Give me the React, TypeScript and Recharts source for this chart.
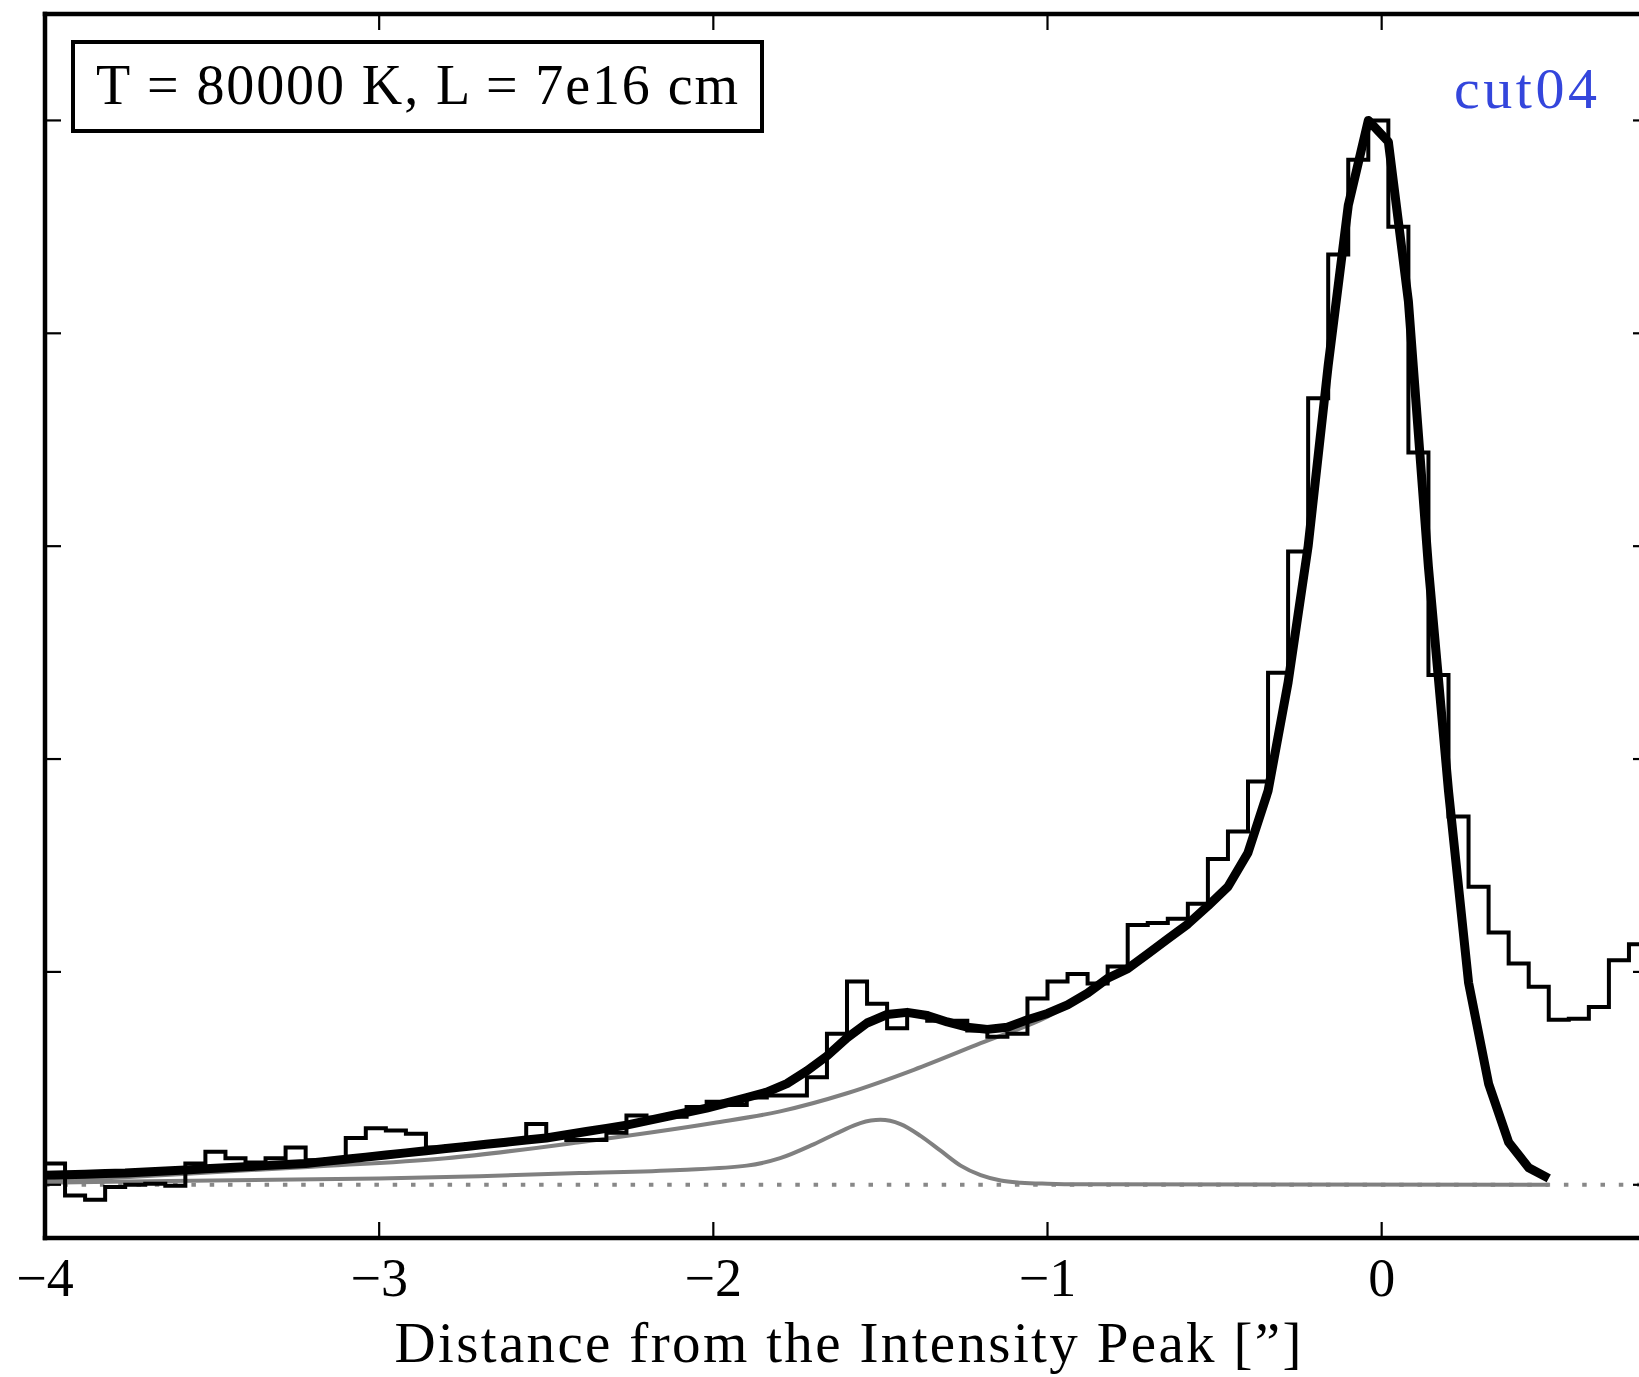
import { ComposedChart, Line, ReferenceLine, XAxis, YAxis } from 'recharts';

const X_TICKS = [-4, -3, -2, -1, 0];
const Y_TICKS = [0, 0.2, 0.4, 0.6, 0.8, 1.0];

// profile bins are 0.06" wide, first edge at -4"
const BIN_START = -4;
const BIN_WIDTH = 0.06;

// observed cut, one level per bin
const HIST_LEVELS = [
  0.02, -0.01, -0.014, -0.002, 0.0, 0.001, -0.001, 0.02, 0.031, 0.025,
  0.021, 0.025, 0.035, 0.023, 0.024, 0.044, 0.053, 0.051, 0.048, 0.035,
  0.036, 0.038, 0.04, 0.041, 0.057, 0.045, 0.042, 0.042, 0.049, 0.065,
  0.063, 0.064, 0.073, 0.078, 0.075, 0.082, 0.084, 0.084, 0.101, 0.142,
  0.191, 0.17, 0.147, 0.161, 0.154, 0.154, 0.145, 0.139, 0.142, 0.175,
  0.191, 0.198, 0.189, 0.205, 0.244, 0.246, 0.25, 0.264, 0.306, 0.332,
  0.379, 0.481, 0.595, 0.739, 0.874, 0.963, 1.0, 0.9, 0.688, 0.479,
  0.346, 0.28, 0.237, 0.208, 0.186, 0.155, 0.156, 0.167, 0.211, 0.226,
];

// total model, sampled at the bin edges from -4" to +0.5"
const FIT_Y = [
  0.009, 0.0095, 0.01, 0.0105, 0.011, 0.012, 0.013, 0.014, 0.015, 0.016,
  0.017, 0.018, 0.019, 0.02, 0.022, 0.024, 0.026, 0.028, 0.03, 0.032,
  0.034, 0.036, 0.038, 0.04, 0.042, 0.044, 0.047, 0.05, 0.053, 0.056,
  0.06, 0.064, 0.068, 0.072, 0.077, 0.082, 0.087, 0.095, 0.107, 0.121,
  0.138, 0.152, 0.16, 0.162, 0.159, 0.153, 0.148, 0.146, 0.148, 0.155,
  0.161, 0.169, 0.18, 0.194, 0.203, 0.217, 0.231, 0.245, 0.262, 0.28,
  0.312, 0.37, 0.472, 0.6, 0.77, 0.92, 1.0, 0.98, 0.83, 0.58,
  0.37, 0.19, 0.095, 0.04, 0.016, 0.006,
];

// extended component (grey, upper)
const EXT_X = [-4.0, -3.6, -3.2, -2.8, -2.4, -2.0, -1.8, -1.6, -1.4, -1.2, -1.0, -0.94];
const EXT_Y = [0.003, 0.01, 0.017, 0.025, 0.04, 0.058, 0.069, 0.086, 0.108, 0.133, 0.158, 0.168];

// knot component (grey, lower)
const KNOT_X = [
  -4.0, -3.5, -3.0, -2.7, -2.4, -2.1, -1.9, -1.8, -1.7, -1.62, -1.56, -1.5,
  -1.44, -1.38, -1.32, -1.26, -1.2, -1.14, -1.08, -1.0, -0.9, 0.5,
];
const KNOT_Y = [
  0.002, 0.004, 0.006, 0.008, 0.011, 0.014, 0.018, 0.025, 0.038, 0.05, 0.058, 0.061,
  0.057, 0.046, 0.032, 0.018, 0.009, 0.004, 0.002, 0.001, 0.0005, 0.0,
];

const edge = (i: number) => +(BIN_START + BIN_WIDTH * i).toFixed(3);

const histData = [
  ...HIST_LEVELS.map((y, i) => ({ x: edge(i), y })),
  { x: edge(HIST_LEVELS.length), y: HIST_LEVELS[HIST_LEVELS.length - 1] },
];
const fitData = FIT_Y.map((y, i) => ({ x: edge(i), y }));
const extData = EXT_X.map((x, i) => ({ x, y: EXT_Y[i] }));
const knotData = KNOT_X.map((x, i) => ({ x, y: KNOT_Y[i] }));

const FONT = '"Liberation Serif", "Times New Roman", serif';
const PLOT_BOTTOM = 1237;
const GREY = '#808080';

const axisLine = { stroke: '#000', strokeWidth: 4.5, strokeLinecap: 'square' as const };
const tickLine = { stroke: '#000', strokeWidth: 2.2 };

function XTick({ x, payload }: any) {
  const v = payload.value as number;
  const label = v < 0 ? `\u2212${Math.abs(v)}` : `${v}`;
  return (
    <text x={x} y={PLOT_BOTTOM + 59} textAnchor="middle" fontFamily={FONT} fontSize={54} fill="#000">
      {label}
    </text>
  );
}

// keeps the tick marks but draws no label
function NoLabel() {
  return <g />;
}

export default function App() {
  return (
    <div
      style={{
        position: 'fixed',
        left: 0,
        top: 0,
        width: 1639,
        height: 1377,
        overflow: 'hidden',
        background: '#fff',
      }}
    >
      <div style={{ position: 'absolute', left: 0, top: 0 }}>
        <ComposedChart width={1700} height={1377} margin={{ top: 14, right: 51, bottom: 139, left: 45 }}>
          <XAxis
            xAxisId="b"
            dataKey="x"
            type="number"
            domain={[-4, 0.8]}
            ticks={X_TICKS}
            allowDataOverflow
            orientation="bottom"
            height={1}
            mirror
            tickSize={16}
            stroke="#000"
            axisLine={axisLine}
            tickLine={tickLine}
            tick={<XTick />}
          />
          <XAxis
            xAxisId="t"
            dataKey="x"
            type="number"
            domain={[-4, 0.8]}
            ticks={X_TICKS}
            allowDataOverflow
            orientation="top"
            height={1}
            mirror
            tickSize={16}
            stroke="#000"
            axisLine={axisLine}
            tickLine={tickLine}
            tick={<NoLabel />}
          />
          <YAxis
            yAxisId="l"
            type="number"
            domain={[-0.05, 1.1]}
            ticks={Y_TICKS}
            allowDataOverflow
            width={1}
            mirror
            tickSize={16}
            stroke="#000"
            axisLine={axisLine}
            tickLine={tickLine}
            tick={<NoLabel />}
          />
          <YAxis
            yAxisId="r"
            orientation="right"
            type="number"
            domain={[-0.05, 1.1]}
            ticks={Y_TICKS}
            allowDataOverflow
            width={1}
            mirror
            tickSize={16}
            stroke="#000"
            axisLine={axisLine}
            tickLine={tickLine}
            tick={<NoLabel />}
          />
          <ReferenceLine
            xAxisId="b"
            yAxisId="l"
            y={0}
            stroke="#888"
            strokeWidth={4}
            strokeDasharray="4.5 13.8"
          />
          <Line
            xAxisId="b"
            yAxisId="l"
            data={extData}
            dataKey="y"
            type="monotone"
            stroke={GREY}
            strokeWidth={4}
            dot={false}
            isAnimationActive={false}
          />
          <Line
            xAxisId="b"
            yAxisId="l"
            data={knotData}
            dataKey="y"
            type="monotone"
            stroke={GREY}
            strokeWidth={4}
            dot={false}
            isAnimationActive={false}
          />
          <Line
            xAxisId="b"
            yAxisId="l"
            data={histData}
            dataKey="y"
            type="stepAfter"
            stroke="#000"
            strokeWidth={4}
            dot={false}
            isAnimationActive={false}
          />
          <Line
            xAxisId="b"
            yAxisId="l"
            data={fitData}
            dataKey="y"
            type="linear"
            stroke="#000"
            strokeWidth={9}
            strokeLinejoin="round"
            dot={false}
            isAnimationActive={false}
          />
        </ComposedChart>
      </div>
      <svg
        width={1639}
        height={1377}
        style={{ position: 'absolute', left: 0, top: 0, pointerEvents: 'none' }}
      >
        <rect x={73} y={42} width={689} height={89} fill="#fff" stroke="#000" strokeWidth={4} />
        <text x={96} y={104} fontFamily={FONT} fontSize={56} textLength={642} lengthAdjust="spacing" fill="#000">
          T = 80000 K, L = 7e16 cm
        </text>
        <text x={1597} y={108} textAnchor="end" fontFamily={FONT} fontSize={58} textLength={143} lengthAdjust="spacing" fill="#3446dc">
          cut04
        </text>
        <text x={848} y={1362} textAnchor="middle" fontFamily={FONT} fontSize={57} textLength={907} lengthAdjust="spacing" fill="#000">
          Distance from the Intensity Peak [”]
        </text>
      </svg>
    </div>
  );
}
